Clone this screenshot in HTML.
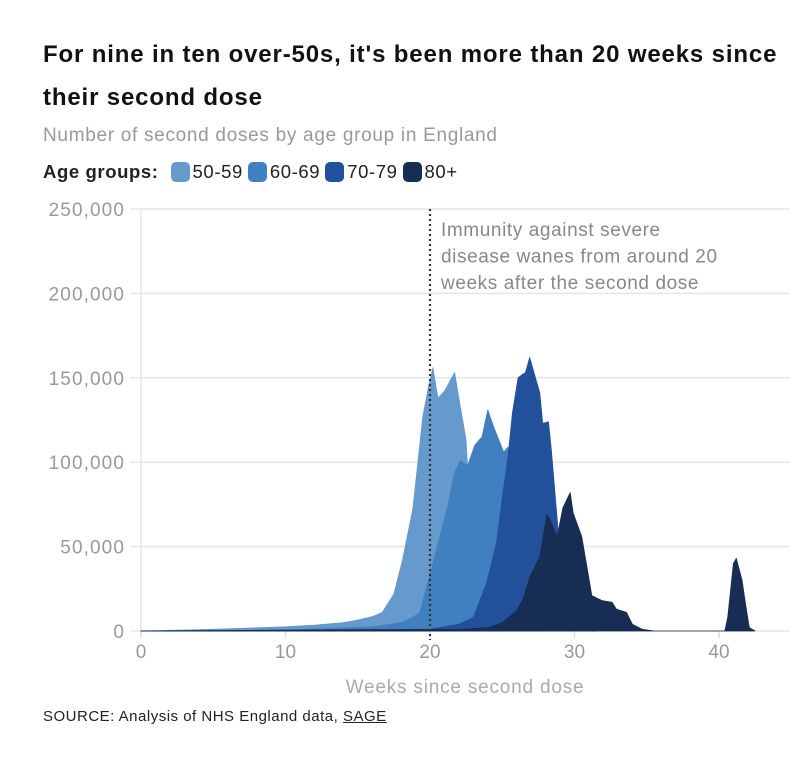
<!DOCTYPE html>
<html><head><meta charset="utf-8"><style>
body{margin:0;background:#fff;font-family:"Liberation Sans",sans-serif;}
#wrap{position:relative;width:810px;height:770px;overflow:hidden;}
.t{position:absolute;white-space:nowrap;}
</style></head><body>
<div id="wrap">
<div class="t" style="left:43px;top:33px;font-size:24px;font-weight:bold;color:#111;line-height:43px;letter-spacing:0.85px;">For nine in ten over-50s, it's been more than 20 weeks since<br>their second dose</div>
<div class="t" style="left:43px;top:125px;font-size:19px;color:#999;letter-spacing:0.7px;">Number of second doses by age group in England</div>
<div class="t" style="left:43px;top:161px;font-size:18.5px;color:#222;display:flex;align-items:center;letter-spacing:0.6px;">
<b style="margin-right:12px">Age groups:</b>
<span style="display:flex;align-items:center;margin-right:5px"><i style="display:inline-block;width:19px;height:20px;border-radius:5px;background:#6699cc;margin-right:3px"></i>50-59</span>
<span style="display:flex;align-items:center;margin-right:5px"><i style="display:inline-block;width:19px;height:20px;border-radius:5px;background:#4080c0;margin-right:3px"></i>60-69</span>
<span style="display:flex;align-items:center;margin-right:5px"><i style="display:inline-block;width:19px;height:20px;border-radius:5px;background:#23509a;margin-right:3px"></i>70-79</span>
<span style="display:flex;align-items:center;"><i style="display:inline-block;width:19px;height:20px;border-radius:5px;background:#182d54;margin-right:3px"></i>80+</span>
</div>
<svg id="chart" width="810" height="770" style="position:absolute;left:0;top:0"></svg>
<div class="t" style="left:43px;top:708px;font-size:15px;color:#222;letter-spacing:0.5px;">SOURCE: Analysis of NHS England data, <span style="text-decoration:underline">SAGE</span></div>
</div>
<script>
const yTicks=[0,50000,100000,150000,200000,250000];
const yTickLabels=["0","50,000","100,000","150,000","200,000","250,000"];
const xTicks=[0,10,20,30,40];
const seriesNames=["50-59","60-69","70-79","80+"];
const weeks5059=[0,5,10,12,14,15,16,16.7,17.5,18.1,18.8,19.1,19.5,19.9,20.2,20.55,21.0,21.7,22.1,22.5,22.6,23,24,25,26,27];
const vals5059=[0,1000,2500,3500,5000,6500,8500,11000,22000,42000,72000,95000,127000,145000,156000,138000,142000,153000,133000,113000,97000,80000,50000,20000,5000,0];
const weeks6069=[0,10,16,18,18.8,19.3,20.2,21.2,21.7,22.1,22.6,23.1,23.6,24.0,24.4,25.1,25.4,26,27,28];
const vals6069=[0,500,2500,5000,8000,11000,40000,73000,94000,101000,98000,110000,115000,131000,121000,106000,109000,70000,20000,0];
const weeks7079=[0,20,22,23,23.9,24.6,25.0,25.4,25.7,26.1,26.4,26.6,26.9,27.1,27.6,27.8,28.2,28.4,28.9,29.5,30.5,31.5];
const vals7079=[0,1000,4000,8000,28000,52000,79000,103000,129000,150000,152000,153000,162000,156000,141000,123000,124000,107000,56000,30000,8000,0];
const weeks80=[0,22,24,25,26,26.5,26.9,27.6,28.1,28.3,28.8,29.2,29.7,29.9,30.5,30.9,31.2,31.9,32.6,32.9,33.6,34.0,34.7,35.5,40.4,40.6,41.0,41.2,41.6,41.8,42.1,42.5];
const vals80=[0,1000,2000,5000,12000,20000,32000,44000,69000,66000,56000,73000,82000,70000,56000,36000,21000,18000,17000,13000,11000,4000,1000,0,0,8000,40000,43000,30000,18000,2000,0];
const colors=["#6699cc","#4080c0","#23509a","#182d54"];
const NS="http://www.w3.org/2000/svg";
const svg=document.getElementById('chart');
const x=w=>141+w*14.45;
const y=v=>631-v*422/250000;
function mk(t,a){const e=document.createElementNS(NS,t);for(const k in a)e.setAttribute(k,a[k]);svg.appendChild(e);return e;}
yTicks.forEach((v,i)=>{
 const g=mk('line',{x1:130,x2:790,y1:y(v),y2:y(v),stroke:'#e6e6e6','stroke-width':1.5});
 
 
 const t=mk('text',{x:125,y:y(v)+7,'text-anchor':'end','font-size':19,fill:'#999','font-family':'Liberation Sans','letter-spacing':1.1});
 t.textContent=yTickLabels[i];
 
 
});
const ax=mk('line',{x1:141,x2:141,y1:209,y2:631,stroke:'#e6e6e6','stroke-width':1.5});


xTicks.forEach(w=>{
 const tk=mk('line',{x1:x(w),x2:x(w),y1:631,y2:638,stroke:'#ddd','stroke-width':1.5});
 
 
 const t=mk('text',{x:x(w),y:658,'text-anchor':'middle','font-size':19,fill:'#999','font-family':'Liberation Sans'});
 t.textContent=String(w);
 
 
});
const all=[[weeks5059,vals5059],[weeks6069,vals6069],[weeks7079,vals7079],[weeks80,vals80]];
all.forEach((s,i)=>{
 let d='M'+x(s[0][0])+','+y(0);
 s[0].forEach((w,j)=>{d+=' L'+x(w).toFixed(1)+','+y(s[1][j]).toFixed(1);});
 d+=' L'+x(s[0][s[0].length-1])+','+y(0)+' Z';
 const p=mk('path',{d:d,fill:colors[i],stroke:colors[i],'stroke-width':0.8,'stroke-linejoin':'round'});
 
 
});
const ref=mk('line',{x1:x(20),x2:x(20),y1:209,y2:640,stroke:'#333','stroke-width':2.2,'stroke-dasharray':'2,3'});


["Immunity against severe","disease wanes from around 20","weeks after the second dose"].forEach((s,i)=>{
 const t=mk('text',{x:441,y:236+i*26.5,'font-size':19,fill:'#888','font-family':'Liberation Sans','letter-spacing':0.6});
 t.textContent=s;
 
 
});
const xt=mk('text',{x:465,y:693,'text-anchor':'middle','font-size':19,fill:'#aaa','font-family':'Liberation Sans','letter-spacing':0.8});
xt.textContent='Weeks since second dose';


</script>
</body></html>
